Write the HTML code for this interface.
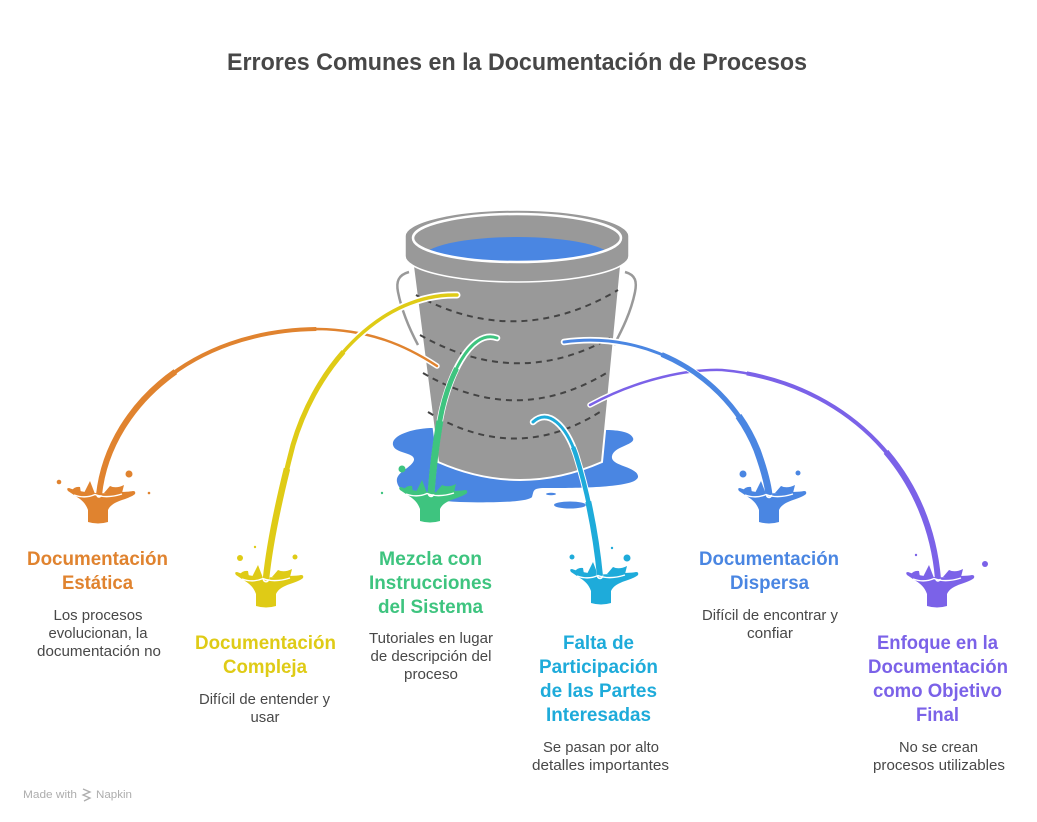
<!DOCTYPE html>
<html><head><meta charset="utf-8"><style>
html,body{margin:0;padding:0;background:#fff;}
svg{display:block;}
text{font-family:"Liberation Sans",Arial,sans-serif;}
.h{font-weight:bold;font-size:19px;text-anchor:middle;}
.d{font-size:14.5px;fill:#484848;text-anchor:middle;}
</style></head><body>
<svg width="1037" height="822" viewBox="0 0 1037 822" xmlns="http://www.w3.org/2000/svg">
<defs>
<clipPath id="inner"><ellipse cx="517" cy="238" rx="104" ry="24"/></clipPath>
<g id="spl">
<path d="M -10,-1 Q 0,2 10,-1 L 10,-13 C 12,-18 18,-21 24,-23 C 30,-25 35,-27 37,-29 Q 38,-32 35,-32 C 30,-31 22,-31 15,-31 Q 6,-29 -3,-30 Q -9,-31 -13,-31 C -18,-32 -24,-33 -29,-35 Q -32,-35 -30,-32 C -27,-30 -24,-28 -21,-26 C -16,-23 -12,-19 -10,-13 Z"/>
<path d="M -14,-30 L -8,-42 L -3,-29 Z"/>
<path d="M 6,-30 L 12,-37 Q 18,-34 26,-38 L 24,-30 Z"/>
<path d="M -27,-32 Q -23,-37 -18,-36 L -17,-30 Z"/>
</g>
</defs>

<text x="517" y="70" font-size="24" font-weight="bold" fill="#474747" text-anchor="middle" textLength="580" lengthAdjust="spacingAndGlyphs">Errores Comunes en la Documentación de Procesos</text>

<!-- puddle -->
<path d="M430,428 C 410,429 391,436 393,445 C 395,454 415,452 414,460 C 412,468 395,472 397,482 C 399,494 420,500 460,502 C 495,503 528,502 532,497 C 534,491 532,488 545,488 C 575,488 640,488 638,476 C 636,466 610,466 612,456 C 614,446 636,445 633,438 C 630,431 615,430 605,430 Z" fill="#4a86e2"/>
<ellipse cx="570" cy="505" rx="16" ry="3.5" fill="#4a86e2"/>
<ellipse cx="551" cy="494" rx="5" ry="1.3" fill="#4a86e2"/>

<!-- handles -->
<path d="M409,272 C 398,275 396,282 398,292 C 402,312 410,330 418,345" fill="none" stroke="#fff" stroke-width="5"/>
<path d="M409,272 C 398,275 396,282 398,292 C 402,312 410,330 418,345" fill="none" stroke="#999" stroke-width="2.5"/>
<path d="M625,272 C 636,275 637,282 635,292 C 631,312 622,330 614,345" fill="none" stroke="#fff" stroke-width="5"/>
<path d="M625,272 C 636,275 637,282 635,292 C 631,312 622,330 614,345" fill="none" stroke="#999" stroke-width="2.5"/>

<!-- body -->
<path d="M413,266 L438,462 Q520,498 602,462 L621,266 Z" fill="#999" stroke="#fff" stroke-width="2"/>
<!-- dashed lines -->
<g fill="none" stroke="#444" stroke-width="2" stroke-dasharray="6 5">
<path d="M416,295 Q517,350 618,290"/>
<path d="M420,335 Q517,390 610,338"/>
<path d="M423,373 Q517,428 608,372"/>
<path d="M428,412 Q517,466 603,410"/>
</g>
<!-- rim -->
<path d="M405,236 A112,26 0 0 1 629,236 L629,256 A112,26 0 0 1 405,256 Z" fill="#999" stroke="#fff" stroke-width="1.5"/>
<ellipse cx="517" cy="238" rx="104" ry="24" fill="#999"/>
<g clip-path="url(#inner)"><ellipse cx="517" cy="258" rx="95" ry="21" fill="#4a86e2"/></g>
<ellipse cx="517" cy="238" rx="104" ry="24" fill="none" stroke="#fff" stroke-width="2.5"/>

<!-- splashes -->
<use href="#spl" transform="translate(98,523)" fill="#e0832f"/>
<use href="#spl" transform="translate(266,607)" fill="#dfcb16"/>
<use href="#spl" transform="translate(430,522)" fill="#3ec47f"/>
<use href="#spl" transform="translate(601,604)" fill="#1eabda"/>
<use href="#spl" transform="translate(769,523)" fill="#4a86e2"/>
<use href="#spl" transform="translate(937,607)" fill="#7b62e8"/>

<!-- drops -->
<g fill="#e0832f"><circle cx="59" cy="482" r="2.3"/><circle cx="129" cy="474" r="3.5"/><circle cx="149" cy="493" r="1.3"/></g>
<g fill="#dfcb16"><circle cx="240" cy="558" r="3"/><circle cx="255" cy="547" r="1.2"/><circle cx="295" cy="557" r="2.5"/></g>
<g fill="#3ec47f"><circle cx="402" cy="469" r="3.5"/><circle cx="382" cy="493" r="1.2"/></g>
<g fill="#1eabda"><circle cx="572" cy="557" r="2.5"/><circle cx="612" cy="548" r="1.2"/><circle cx="627" cy="558" r="3.5"/></g>
<g fill="#4a86e2"><circle cx="743" cy="474" r="3.5"/><circle cx="798" cy="473" r="2.5"/></g>
<g fill="#7b62e8"><circle cx="916" cy="555" r="1.2"/><circle cx="985" cy="564" r="3"/></g>

<!-- streams -->
<g fill="none" stroke-linecap="round">
<!-- orange -->
<path d="M437,366 C 405,345 370,330 318,329 C 190,330 108,410 99,495" stroke="#fff" stroke-width="5.5"/>
<path d="M437,366 C 405,345 370,330 318,329 C 190,330 108,410 99,495" stroke="#e0832f" stroke-width="2.5"/>
<path d="M437,366 C 405,345 370,330 318,329 C 190,330 108,410 99,495" pathLength="100" stroke="#e0832f" stroke-width="4" stroke-linecap="butt" stroke-dasharray="0 30 70 0"/>
<path d="M437,366 C 405,345 370,330 318,329 C 190,330 108,410 99,495" pathLength="100" stroke="#e0832f" stroke-width="6" stroke-linecap="butt" stroke-dasharray="0 65 35 0"/>
<!-- yellow -->
<path d="M457,295 C 385,293 318,360 293,445 C 280,495 270,540 266,579" stroke="#fff" stroke-width="7"/>
<path d="M457,295 C 385,293 318,360 293,445 C 280,495 270,540 266,579" stroke="#dfcb16" stroke-width="3.5"/>
<path d="M457,295 C 385,293 318,360 293,445 C 280,495 270,540 266,579" pathLength="100" stroke="#dfcb16" stroke-width="5" stroke-linecap="butt" stroke-dasharray="0 35 65 0"/>
<path d="M457,295 C 385,293 318,360 293,445 C 280,495 270,540 266,579" pathLength="100" stroke="#dfcb16" stroke-width="6.5" stroke-linecap="butt" stroke-dasharray="0 70 30 0"/>
<!-- purple -->
<path d="M590,405 C 640,378 690,369 722,370 C 835,380 928,460 938,579" stroke="#fff" stroke-width="5.5"/>
<path d="M590,405 C 640,378 690,369 722,370 C 835,380 928,460 938,579" stroke="#7b62e8" stroke-width="2.5"/>
<path d="M590,405 C 640,378 690,369 722,370 C 835,380 928,460 938,579" pathLength="100" stroke="#7b62e8" stroke-width="4" stroke-linecap="butt" stroke-dasharray="0 35 65 0"/>
<path d="M590,405 C 640,378 690,369 722,370 C 835,380 928,460 938,579" pathLength="100" stroke="#7b62e8" stroke-width="6" stroke-linecap="butt" stroke-dasharray="0 70 30 0"/>
<!-- blue -->
<path d="M564,342 C 650,330 728,378 757,450 C 765,472 768,486 769,495" stroke="#fff" stroke-width="6.5"/>
<path d="M564,342 C 650,330 728,378 757,450 C 765,472 768,486 769,495" stroke="#4a86e2" stroke-width="3"/>
<path d="M564,342 C 650,330 728,378 757,450 C 765,472 768,486 769,495" pathLength="100" stroke="#4a86e2" stroke-width="5" stroke-linecap="butt" stroke-dasharray="0 35 65 0"/>
<path d="M564,342 C 650,330 728,378 757,450 C 765,472 768,486 769,495" pathLength="100" stroke="#4a86e2" stroke-width="7" stroke-linecap="butt" stroke-dasharray="0 70 30 0"/>
<!-- green -->
<path d="M497,338 C 470,328 447,380 440,420 C 434,455 432,480 431,494" stroke="#fff" stroke-width="6.5"/>
<path d="M497,338 C 470,328 447,380 440,420 C 434,455 432,480 431,494" stroke="#3ec47f" stroke-width="3"/>
<path d="M497,338 C 470,328 447,380 440,420 C 434,455 432,480 431,494" pathLength="100" stroke="#3ec47f" stroke-width="5" stroke-linecap="butt" stroke-dasharray="0 30 70 0"/>
<path d="M497,338 C 470,328 447,380 440,420 C 434,455 432,480 431,494" pathLength="100" stroke="#3ec47f" stroke-width="7" stroke-linecap="butt" stroke-dasharray="0 60 40 0"/>
<!-- cyan -->
<path d="M533,422 C 548,408 566,425 576,455 C 590,500 597,545 600,576" stroke="#fff" stroke-width="6.5"/>
<path d="M533,422 C 548,408 566,425 576,455 C 590,500 597,545 600,576" stroke="#1eabda" stroke-width="3"/>
<path d="M533,422 C 548,408 566,425 576,455 C 590,500 597,545 600,576" pathLength="100" stroke="#1eabda" stroke-width="4.5" stroke-linecap="butt" stroke-dasharray="0 30 70 0"/>
<path d="M533,422 C 548,408 566,425 576,455 C 590,500 597,545 600,576" pathLength="100" stroke="#1eabda" stroke-width="6" stroke-linecap="butt" stroke-dasharray="0 60 40 0"/>
</g>

<!-- splash surface lines -->
<g fill="none" stroke="#fff" stroke-width="1.4">
<path transform="translate(98,523)" d="M -24,-28 Q -13,-24 -3,-28.5 Q 8,-24 24,-29"/>
<path transform="translate(266,607)" d="M -24,-28 Q -13,-24 -3,-28.5 Q 8,-24 24,-29"/>
<path transform="translate(430,522)" d="M -24,-28 Q -13,-24 -3,-28.5 Q 8,-24 24,-29"/>
<path transform="translate(601,604)" d="M -24,-28 Q -13,-24 -3,-28.5 Q 8,-24 24,-29"/>
<path transform="translate(769,523)" d="M -24,-28 Q -13,-24 -3,-28.5 Q 8,-24 24,-29"/>
<path transform="translate(937,607)" d="M -24,-28 Q -13,-24 -3,-28.5 Q 8,-24 24,-29"/>
</g>

<!-- labels -->
<g fill="#e0832f">
<text class="h" x="97.5" y="565" textLength="141" lengthAdjust="spacingAndGlyphs">Documentación</text>
<text class="h" x="97.5" y="589" textLength="71" lengthAdjust="spacingAndGlyphs">Estática</text>
</g>
<text class="d" x="98" y="620" textLength="89" lengthAdjust="spacingAndGlyphs">Los procesos</text>
<text class="d" x="98" y="638" textLength="99" lengthAdjust="spacingAndGlyphs">evolucionan, la</text>
<text class="d" x="99" y="656" textLength="124" lengthAdjust="spacingAndGlyphs">documentación no</text>

<g fill="#dfcb16">
<text class="h" x="265.5" y="649" textLength="141" lengthAdjust="spacingAndGlyphs">Documentación</text>
<text class="h" x="265" y="673" textLength="84" lengthAdjust="spacingAndGlyphs">Compleja</text>
</g>
<text class="d" x="264.5" y="704" textLength="131" lengthAdjust="spacingAndGlyphs">Difícil de entender y</text>
<text class="d" x="265" y="722" textLength="29" lengthAdjust="spacingAndGlyphs">usar</text>

<g fill="#3ec47f">
<text class="h" x="430.5" y="565" textLength="103" lengthAdjust="spacingAndGlyphs">Mezcla con</text>
<text class="h" x="430.5" y="589" textLength="123" lengthAdjust="spacingAndGlyphs">Instrucciones</text>
<text class="h" x="430.5" y="613" textLength="105" lengthAdjust="spacingAndGlyphs">del Sistema</text>
</g>
<text class="d" x="431" y="643" textLength="124" lengthAdjust="spacingAndGlyphs">Tutoriales en lugar</text>
<text class="d" x="431" y="661" textLength="121" lengthAdjust="spacingAndGlyphs">de descripción del</text>
<text class="d" x="431" y="679" textLength="54" lengthAdjust="spacingAndGlyphs">proceso</text>

<g fill="#1eabda">
<text class="h" x="598.5" y="649" textLength="71" lengthAdjust="spacingAndGlyphs">Falta de</text>
<text class="h" x="598.5" y="673" textLength="119" lengthAdjust="spacingAndGlyphs">Participación</text>
<text class="h" x="598.5" y="697" textLength="117" lengthAdjust="spacingAndGlyphs">de las Partes</text>
<text class="h" x="598.5" y="721" textLength="105" lengthAdjust="spacingAndGlyphs">Interesadas</text>
</g>
<text class="d" x="601" y="752" textLength="116" lengthAdjust="spacingAndGlyphs">Se pasan por alto</text>
<text class="d" x="600.5" y="770" textLength="137" lengthAdjust="spacingAndGlyphs">detalles importantes</text>

<g fill="#4a86e2">
<text class="h" x="769" y="565" textLength="140" lengthAdjust="spacingAndGlyphs">Documentación</text>
<text class="h" x="769.5" y="589" textLength="79" lengthAdjust="spacingAndGlyphs">Dispersa</text>
</g>
<text class="d" x="770" y="620" textLength="136" lengthAdjust="spacingAndGlyphs">Difícil de encontrar y</text>
<text class="d" x="770" y="638" textLength="46" lengthAdjust="spacingAndGlyphs">confiar</text>

<g fill="#7b62e8">
<text class="h" x="937.5" y="649" textLength="121" lengthAdjust="spacingAndGlyphs">Enfoque en la</text>
<text class="h" x="938" y="673" textLength="140" lengthAdjust="spacingAndGlyphs">Documentación</text>
<text class="h" x="937.5" y="697" textLength="129" lengthAdjust="spacingAndGlyphs">como Objetivo</text>
<text class="h" x="937.5" y="721" textLength="43" lengthAdjust="spacingAndGlyphs">Final</text>
</g>
<text class="d" x="938.5" y="752" textLength="79" lengthAdjust="spacingAndGlyphs">No se crean</text>
<text class="d" x="939" y="770" textLength="132" lengthAdjust="spacingAndGlyphs">procesos utilizables</text>

<!-- footer -->
<text x="23" y="798" font-size="11" fill="#adadad" textLength="54" lengthAdjust="spacingAndGlyphs">Made with</text>
<g stroke="#adadad" stroke-width="1.3" fill="none"><path d="M83,789 L90,792 L83,795 L90,798 L84,801"/></g>
<text x="96" y="798" font-size="11" fill="#adadad" textLength="36" lengthAdjust="spacingAndGlyphs">Napkin</text>
</svg>
</body></html>
